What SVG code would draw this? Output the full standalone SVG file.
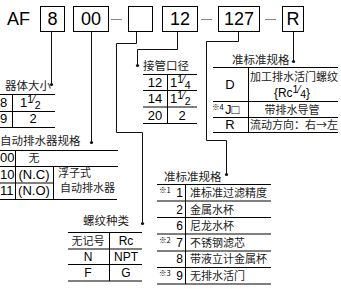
<svg xmlns="http://www.w3.org/2000/svg" width="341" height="289" viewBox="0 0 341 289">
<style>
.bg{fill:#fff}
.box{fill:#fff;stroke:#000;stroke-width:1}
.big{font-family:"Liberation Sans",Arial,sans-serif;font-size:18px;fill:#000}
.dash{stroke:#888;stroke-width:1}
.ln{stroke:#000;stroke-width:1;fill:none}
.conn{stroke:#111;stroke-width:1;fill:none}
.dot{fill:#111}
.lab{font-family:"Noto Sans CJK SC",sans-serif;font-size:11.5px;fill:#222}
.cj{font-family:"Noto Sans CJK SC",sans-serif;font-size:11px;fill:#222}
.num{font-family:"Liberation Sans",Arial,"Noto Sans CJK SC",sans-serif;font-size:13px;fill:#000}
.sm{font-family:"Liberation Sans",Arial,"Noto Sans CJK SC",sans-serif;font-size:12px;fill:#000}
.sup{font-family:"Noto Sans CJK SC","Liberation Sans",sans-serif;font-size:7.5px;fill:#000}
.fr{font-size:10.5px}
.mid{text-anchor:middle}
.end{text-anchor:end}
</style>
<rect class="bg" x="0" y="0" width="341" height="289"/>

<g id="code">
  <text class="big" x="7" y="25">AF</text>
  <g id="box-8"><rect class="box" x="40.5" y="6.5" width="24" height="25"/><text class="big mid" x="52.5" y="25">8</text></g>
  <g id="box-00"><rect class="box" x="73.5" y="6.5" width="35" height="25"/><text class="big mid" x="91" y="25">00</text></g>
  <line class="dash" x1="111" y1="19.5" x2="122" y2="19.5"/>
  <g id="box-empty"><rect class="box" x="128.5" y="6.5" width="24" height="25"/></g>
  <g id="box-12"><rect class="box" x="162.5" y="6.5" width="35" height="25"/><text class="big mid" x="180" y="25">12</text></g>
  <line class="dash" x1="201" y1="19.5" x2="212" y2="19.5"/>
  <g id="box-127"><rect class="box" x="218.5" y="6.5" width="41" height="25"/><text class="big mid" x="239" y="25">127</text></g>
  <line class="dash" x1="265" y1="19.5" x2="276" y2="19.5"/>
  <g id="box-R"><rect class="box" x="282.5" y="6.5" width="21" height="25"/><text class="big mid" x="293" y="25">R</text></g>
</g>

<g id="connectors">
  <path class="conn" d="M51.5 32V84"/>
  <path class="conn" d="M91.5 32V142"/>
  <path class="conn" d="M136.5 32V43.5H116.5V132.5H142.5V223"/>
  <path class="conn" d="M177.5 32V49.5H137.5V65"/>
  <path class="conn" d="M238.5 32V41.5H206.5V140.5H226.5V174"/>
  <path class="conn" d="M293.5 32V61"/>
  <circle class="dot" cx="51.5" cy="84.5" r="1.6"/>
  <circle class="dot" cx="91.5" cy="142.5" r="1.6"/>
  <circle class="dot" cx="142.5" cy="223.5" r="1.6"/>
  <circle class="dot" cx="137.5" cy="65.5" r="1.6"/>
  <circle class="dot" cx="226.5" cy="174.5" r="1.6"/>
  <circle class="dot" cx="293.5" cy="61.5" r="1.6"/>
</g>

<g id="body-size">
  <text class="lab" x="5" y="90">器体大小</text>
  <path class="ln" d="M0 94.5H55M0 111.5H55M0 127.5H55M12.5 94.5V127.5"/>
  <text class="num" x="0" y="107">8</text>
  <text class="num" x="20" y="107">1<tspan class="fr" dy="-4">1</tspan><tspan class="fr" dy="0">⁄</tspan><tspan class="fr" dy="6">2</tspan></text>
  <text class="num" x="0" y="123">9</text>
  <text class="num mid" x="33" y="123">2</text>
</g>

<g id="drain-spec">
  <text class="lab" x="0" y="145">自动排水器规格</text>
  <path class="ln" d="M0 150.5H118M0 166.5H118M0 183H53.5M0 199.5H117M15.5 150.5V199.5M53.5 166.5V199.5"/>
  <text class="num" x="0" y="162">00</text>
  <text class="cj mid" x="34" y="162">无</text>
  <text class="num" x="0" y="179">10</text>
  <text class="num mid" x="34" y="179">(N.C)</text>
  <text class="num" x="0" y="195">11</text>
  <text class="num mid" x="34" y="195">(N.O)</text>
  <text class="cj" x="58" y="177">浮子式</text>
  <text class="cj" x="60" y="192">自动排水器</text>
</g>

<g id="port-size">
  <text class="lab" x="143" y="70">接管口径</text>
  <path class="ln" d="M143 74.5H197M143 90.5H197M143 107H197M143 123.5H197M167.5 74.5V123.5"/>
  <text class="num mid" x="155" y="87">12</text>
  <text class="num" x="170" y="87">1<tspan class="fr" dy="-4">1</tspan><tspan class="fr">⁄</tspan><tspan class="fr" dy="6">4</tspan></text>
  <text class="num mid" x="155" y="103">14</text>
  <text class="num" x="170" y="103">1<tspan class="fr" dy="-4">1</tspan><tspan class="fr">⁄</tspan><tspan class="fr" dy="6">2</tspan></text>
  <text class="num mid" x="155" y="120">20</text>
  <text class="num mid" x="182" y="120">2</text>
</g>

<g id="semi-std-upper">
  <text class="lab" x="232" y="64">准标准规格</text>
  <path class="ln" d="M213 67.5H338M213 101.5H338M213 117.5H338M213 132.5H338M248.5 67.5V132.5"/>
  <text class="num mid" x="230" y="89">D</text>
  <text class="cj" x="250" y="81">加工排水活门螺纹</text>
  <text class="sm mid" x="292" y="97">{Rc<tspan class="fr" dy="-4">1</tspan><tspan class="fr">⁄</tspan><tspan class="fr" dy="5">4</tspan><tspan dy="-1">}</tspan></text>
  <text class="sup" x="212" y="110">※4</text>
  <text class="num" x="225" y="114">J□</text>
  <text class="cj mid" x="292" y="114">带排水导管</text>
  <text class="num mid" x="230" y="129">R</text>
  <text class="cj" x="250" y="129">流动方向：右→左</text>
</g>

<g id="thread-type">
  <text class="lab" x="83" y="225">螺纹种类</text>
  <path class="ln" d="M68 232.5H142M68 249H142M68 264.5H142M68 281H142M109.5 232.5V281"/>
  <text class="cj mid" x="88" y="245">无记号</text>
  <text class="sm mid" x="126" y="245">Rc</text>
  <text class="sm mid" x="88" y="261">N</text>
  <text class="sm mid" x="126" y="261">NPT</text>
  <text class="sm mid" x="88" y="277">F</text>
  <text class="sm mid" x="126" y="277">G</text>
</g>

<g id="semi-std-lower">
  <text class="lab" x="164" y="181">准标准规格</text>
  <path class="ln" d="M157 184.5H271M157 201H271M157 217.5H271M157 234H271M157 251H271M157 267.5H271M157 284H271M185.5 184.5V284"/>
  <text class="sup" x="159" y="193">※1</text>
  <text class="sm end" x="183" y="197">1</text>
  <text class="cj" x="190" y="197">准标准过滤精度</text>
  <text class="sm end" x="183" y="214">2</text>
  <text class="cj" x="190" y="214">金属水杯</text>
  <text class="sm end" x="183" y="230">6</text>
  <text class="cj" x="190" y="230">尼龙水杯</text>
  <text class="sup" x="159" y="243">※2</text>
  <text class="sm end" x="183" y="247">7</text>
  <text class="cj" x="190" y="247">不锈钢滤芯</text>
  <text class="sm end" x="183" y="263">8</text>
  <text class="cj" x="190" y="263">带液立计金属杯</text>
  <text class="sup" x="159" y="276">※3</text>
  <text class="sm end" x="183" y="280">9</text>
  <text class="cj" x="190" y="280">无排水活门</text>
</g>
</svg>
